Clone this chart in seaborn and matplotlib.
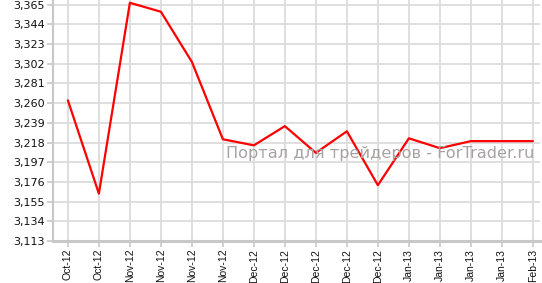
import matplotlib
matplotlib.use("Agg")
import matplotlib.pyplot as plt
import seaborn as sns
import pandas as pd
import numpy as np

labels = ["Oct-12", "Oct-12", "Nov-12", "Nov-12", "Nov-12", "Nov-12", "Dec-12", "Dec-12",
          "Dec-12", "Dec-12", "Dec-12", "Jan-13", "Jan-13", "Jan-13", "Jan-13", "Feb-13"]
values = [3263, 3163.5, 3367, 3357.5, 3304, 3221.5, 3215, 3235.5,
          3207, 3230, 3172.5, 3222.5, 3212, 3219.5, 3219.5, 3219.5]
yticks = [3113, 3134, 3155, 3176, 3197, 3218, 3239, 3260, 3281, 3302, 3323, 3344, 3365]

df = pd.DataFrame({"pos": np.arange(len(values)), "value": values})

sns.set_theme(style="white")
fig = plt.figure(figsize=(5.42, 2.83), dpi=100)
ax = fig.add_axes([53/542, 42/283, 487/542, 241/283])

sns.lineplot(data=df, x="pos", y="value", ax=ax, color="#ff0000", linewidth=1.6)

ax.set_xlim(-0.48, 15.23)
ax.set_ylim(3113, 3370)
ax.set_yticks(yticks)
ax.set_yticklabels([f"{v:,}" for v in yticks], fontsize=8, family="DejaVu Sans", color="#111111")
ax.set_xticks(range(len(labels)))
ax.set_xticklabels(labels, rotation=90, fontsize=7.5, family="Liberation Sans", color="#111111")
ax.set_xlabel("")
ax.set_ylabel("")

ax.grid(True, color="#dcdcdc", linewidth=1.3)
ax.set_axisbelow(True)
for s in ["top", "right"]:
    ax.spines[s].set_visible(False)
ax.spines["left"].set_color("#c8c8c8")
ax.spines["left"].set_linewidth(1.5)
ax.spines["bottom"].set_color("#c8c8c8")
ax.spines["bottom"].set_linewidth(2.2)
ax.tick_params(axis="y", length=4, width=1.2, color="#c8c8c8", pad=2, left=True)
ax.tick_params(axis="x", length=4, width=1.2, color="#c8c8c8", pad=1.5, bottom=True)

ax.text(0.988, 0.365, "Портал для трейдеров - ForTrader.ru", transform=ax.transAxes,
        ha="right", va="center", fontsize=11.6, color="#a8a2a2", family="DejaVu Sans")

fig.savefig("out.png", dpi=100)
